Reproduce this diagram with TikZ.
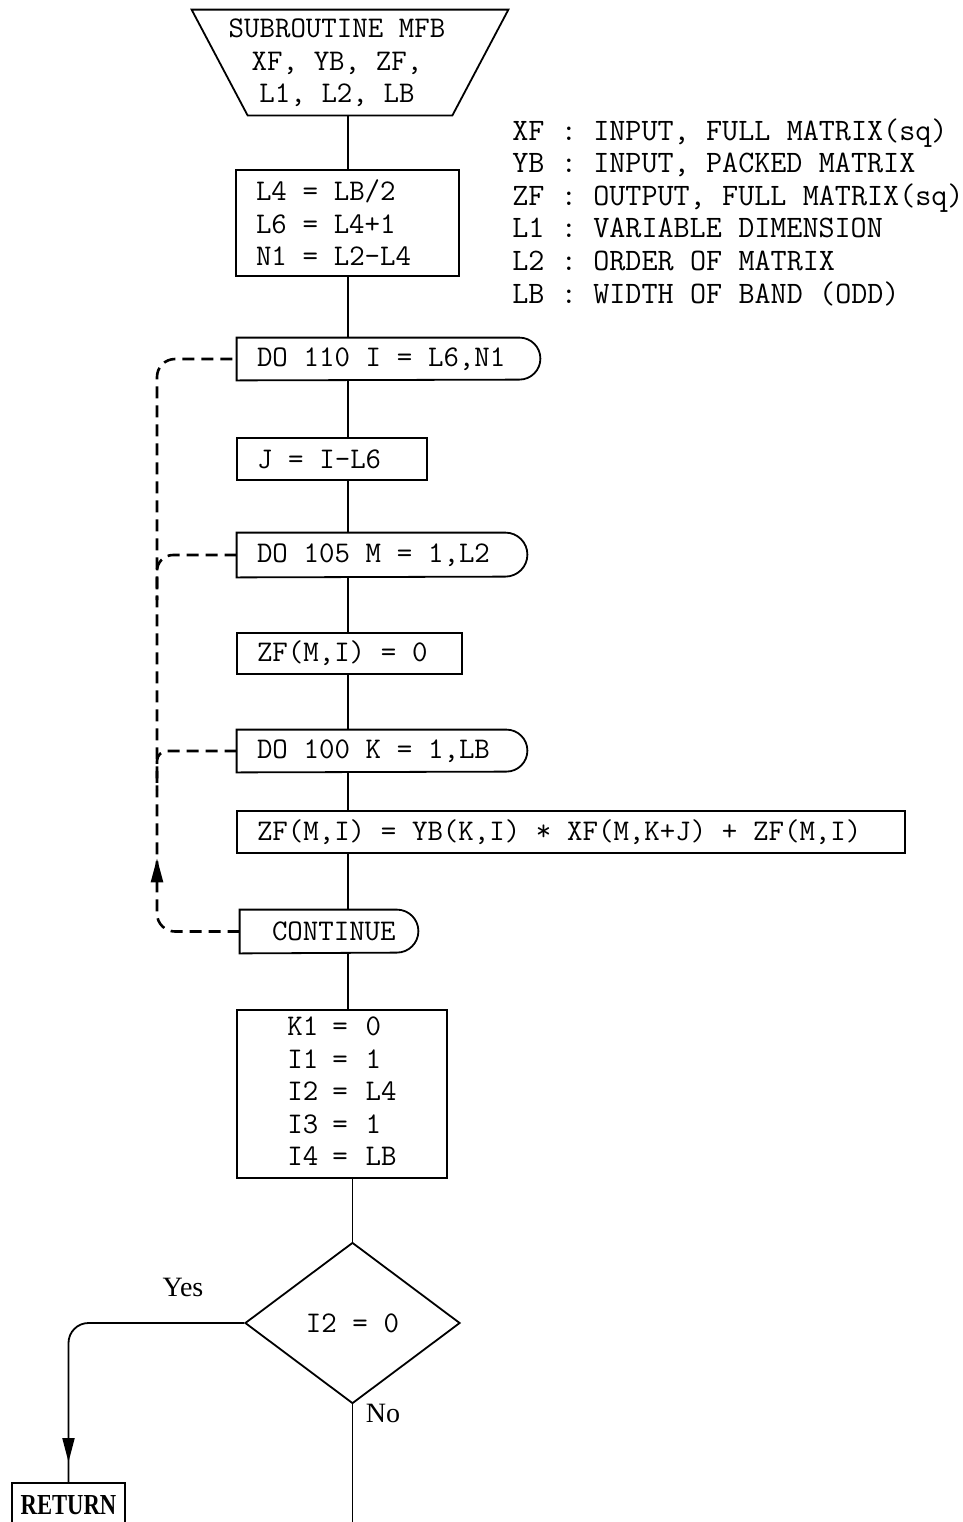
\documentclass[tikz,border=0pt]{standalone}
\usepackage{fontspec}
\setmainfont{Liberation Serif}
\usetikzlibrary{shapes.geometric,arrows.meta,decorations.markings,calc}
\newcommand\dooutline[2]{\draw[flow] (#1.north west) -- ([xshift=-#2]#1.north east) arc[start angle=90,end angle=-90,radius=#2] -- (#1.south west) -- cycle;}
\newcommand\monosp{\spaceskip=0.525em\relax\xspaceskip=0.525em\relax}
\begin{document}
\begin{tikzpicture}[x=0.5pt,y=-0.5pt,
  code/.style={font=\fontsize{15}{16.25}\selectfont\ttfamily\monosp, execute at begin node=\monosp},
  codebox/.style={code, draw, line width=0.9pt, inner xsep=10pt, inner ysep=0pt, align=left},
  dobox/.style={code, inner xsep=10pt, inner ysep=0pt, align=left},
  flow/.style={line width=0.9pt},
  loopline/.style={line width=1.3pt, dash pattern=on 6pt off 3.5pt},
  lbl/.style={font=\fontsize{14}{16}\selectfont, inner sep=0pt},
  markarrow/.style={postaction={decorate, solid}, decoration={markings, mark=at position #1 with {\arrow{Triangle[length=12pt,width=6pt]}}}},
]
\path[use as bounding box] (0,0) rectangle (963,1522);
\clip (0,0) rectangle (963,1522);
\coordinate (spine) at (348,0);

% header trapezoid
\node[minimum width=158pt, minimum height=52.5pt, inner sep=0pt] (sub) at (350,62.5) {};
\draw[flow] (sub.north west) -- (sub.north east) -- ([xshift=-28pt]sub.south east) -- ([xshift=28pt]sub.south west) -- cycle;
\node[code, align=center, inner sep=0pt] (subtxt) at (337,63) {SUBROUTINE MFB\\XF, YB, ZF,\\L1, L2, LB};

% legend
\node[font=\fontsize{15.6}{16.3}\selectfont\ttfamily\monosp, align=left, anchor=west, inner sep=0pt] (legend) at (512,212)
 {XF : INPUT, FULL MATRIX(sq)\\YB : INPUT, PACKED MATRIX\\ZF : OUTPUT, FULL MATRIX(sq)\\L1 : VARIABLE DIMENSION\\L2 : ORDER OF MATRIX\\LB : WIDTH OF BAND (ODD)};

% boxes
\node[codebox, text width=91.5pt, minimum height=53pt] (b1) at (347.5,223) {L4 = LB/2\\L6 = L4+1\\N1 = L2-L4};
\node[dobox, text width=131.5pt, minimum height=21pt] (do1) at (388.5,359) {DO 110 I = L6,N1};
\dooutline{do1}{10.5pt}
\node[codebox, text width=75pt, minimum height=21pt] (jbox) at (332,459) {J = I-L6};
\node[dobox, text width=125pt, minimum height=22pt] (do2) at (382,555) {DO 105 M = 1,L2};
\dooutline{do2}{11pt}
\node[codebox, text width=92.5pt, minimum height=20.5pt] (zf0) at (349.5,653.5) {ZF(M,I) = 0};
\node[dobox, text width=125pt, minimum height=21pt] (do3) at (382,751) {DO 100 K = 1,LB};
\dooutline{do3}{10.5pt}
\node[codebox, text width=314pt, minimum height=21pt] (zfb) at (571,832) {ZF(M,I) = YB(K,I) * XF(M,K+J) + ZF(M,I)};
\node[dobox, text width=69pt, minimum height=21.5pt] (cont) at (329,931.5) {\hspace*{6pt}CONTINUE};
\dooutline{cont}{10.75pt}
\node[code, draw, line width=0.9pt, inner sep=0pt, minimum width=105pt, minimum height=84pt] (init) at (342,1094)
 {\begin{tabular}{@{}l@{\hspace{7pt}}c@{\hspace{9pt}}l@{}}K1&=&0\\I1&=&1\\I2&=&L4\\I3&=&1\\I4&=&LB\end{tabular}};
\node[code, draw, line width=0.9pt, diamond, inner sep=0pt, minimum width=107.5pt, minimum height=80.5pt] (dia) at (352.5,1323) {I2 = 0};
\node[draw, line width=0.9pt, font=\fontsize{14.5}{16}\selectfont\bfseries, inner sep=0pt, minimum width=56.5pt, minimum height=22pt] (ret) at (68.5,1505) {\scalebox{0.78}[1]{RETURN}};

% labels
\node[lbl] (yes) at (183,1287) {Yes};
\node[lbl] (no) at (383,1413) {No};

% main flow
\draw[flow] (sub.south -| spine) -- (b1.north -| spine);
\draw[flow] (b1.south -| spine) -- (do1.north -| spine);
\draw[flow] (do1.south -| spine) -- (jbox.north -| spine);
\draw[flow] (jbox.south -| spine) -- (do2.north -| spine);
\draw[flow] (do2.south -| spine) -- (zf0.north -| spine);
\draw[flow] (zf0.south -| spine) -- (do3.north -| spine);
\draw[flow] (do3.south -| spine) -- (zfb.north -| spine);
\draw[flow] (zfb.south -| spine) -- (cont.north -| spine);
\draw[flow] (cont.south -| spine) -- (init.north -| spine);
\draw[flow] (init.south -| dia.north) -- (dia.north);
\coordinate (noend) at (352.5,1540);
\draw[flow] (dia.south) -- (noend);
\draw[flow, rounded corners=10pt, markarrow=-10pt] (dia.west) -| (ret.north);

% dashed loops
\coordinate (lx) at (157,640);
\coordinate (b2) at (157,600);
\coordinate (b3) at (157,790);
\draw[loopline, rounded corners=9pt, markarrow=74pt] (cont.west) -| (lx) |- (do1.west);
\draw[loopline, rounded corners=8pt] (do2.west) -| (b2);
\draw[loopline, rounded corners=5pt] (do3.west) -| (b3);
\end{tikzpicture}
\end{document}
